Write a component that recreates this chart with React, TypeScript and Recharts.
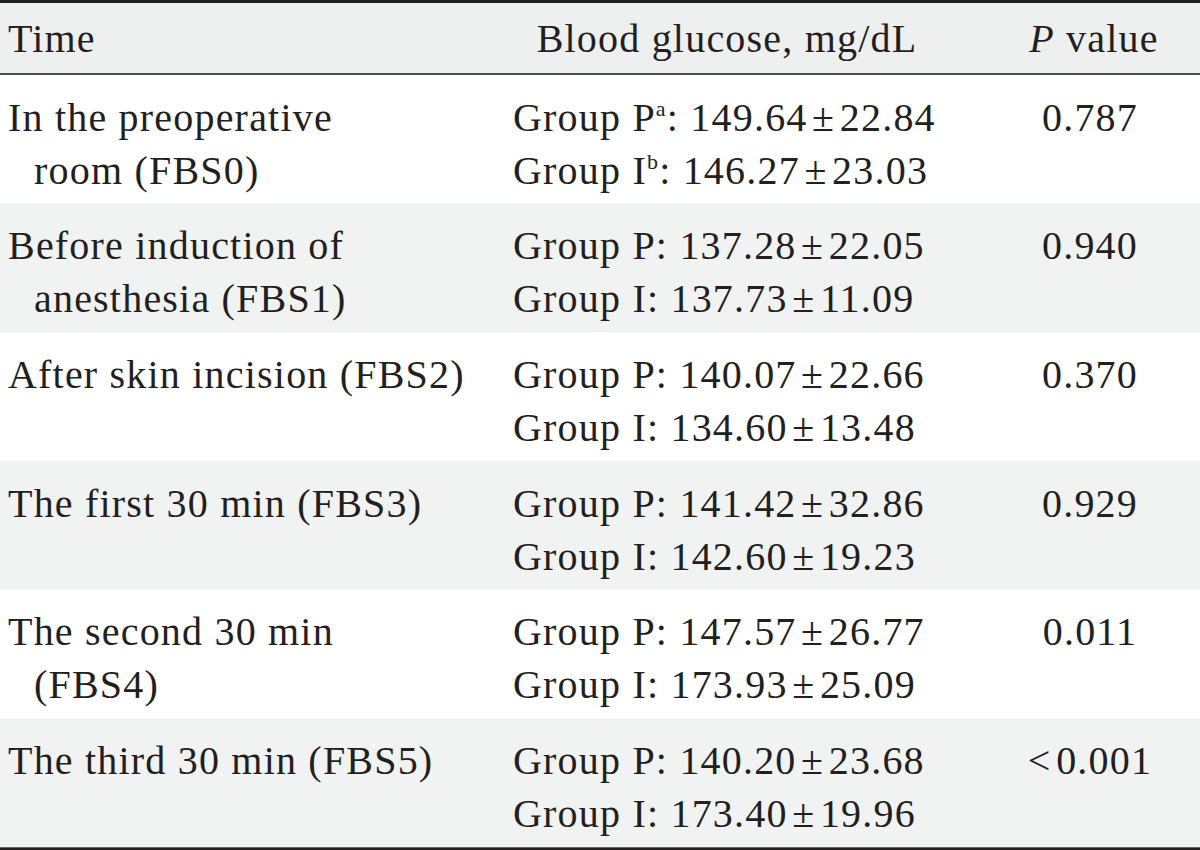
import { BarChart, Bar, XAxis, YAxis, Customized } from 'recharts';

// table rows
const times = [
  'In the preoperative\nroom (FBS0)',
  'Before induction of\nanesthesia (FBS1)',
  'After skin incision (FBS2)',
  'The first 30 min (FBS3)',
  'The second 30 min\n(FBS4)',
  'The third 30 min (FBS5)',
];
const groupPMean = [149.64, 137.28, 140.07, 141.42, 147.57, 140.2];
const groupPSd = [22.84, 22.05, 22.66, 32.86, 26.77, 23.68];
const groupIMean = [146.27, 137.73, 134.6, 142.6, 173.93, 173.4];
const groupISd = [23.03, 11.09, 13.48, 19.23, 25.09, 19.96];
const pValues = ['0.787', '0.940', '0.370', '0.929', '0.011', '<0.001'];

const headers = ['Time', 'Blood glucose, mg/dL', 'P value'];

const rows = times.map((time, i) => ({
  time,
  span: 1,
  pMean: groupPMean[i],
  pSd: groupPSd[i],
  iMean: groupIMean[i],
  iSd: groupISd[i],
  p: pValues[i],
}));

const FONT = '"Liberation Serif", "DejaVu Serif", serif';
const INK = '#231f20';
const FS = 40;
const LS = 1.2;

const fmt = (m: number, sd: number) => `${m.toFixed(2)}\u200a±\u200a${sd.toFixed(2)}`;

const RowShape = (props: any) => {
  const { x, y, width, height, index, payload } = props;
  const lines: string[] = payload.time.split('\n');
  const mid = y + height / 2;
  const b1 = mid - 9;
  const b2 = mid + 44;
  const first = index === 0;
  return (
    <g fontFamily={FONT} fontSize={FS} fill={INK} letterSpacing={LS}>
      <rect x={x} y={y} width={width} height={height} fill={index % 2 ? '#f1f2f2' : '#ffffff'} />
      <text x={x + 8} y={b1}>{lines[0]}</text>
      {lines[1] && <text x={x + 34} y={b2}>{lines[1]}</text>}
      <text x={x + 513} y={b1}>
        Group P
        {first && <tspan dy={-15} fontSize={22}>a</tspan>}
        <tspan dy={first ? 15 : 0}>: {fmt(payload.pMean, payload.pSd)}</tspan>
      </text>
      <text x={x + 513} y={b2}>
        Group I
        {first && <tspan dy={-15} fontSize={22}>b</tspan>}
        <tspan dy={first ? 15 : 0}>: {fmt(payload.iMean, payload.iSd)}</tspan>
      </text>
      <text x={x + 1090} y={b1} textAnchor="middle">
        {payload.p.replace('<', '<\u200a')}
      </text>
    </g>
  );
};

const Header = () => (
  <g fontFamily={FONT} fontSize={FS} fill={INK} letterSpacing={LS}>
    <rect x={0} y={0} width={1200} height={73} fill="#eeefef" />
    <rect x={0} y={0} width={1200} height={3} fill={INK} />
    <rect x={0} y={73} width={1200} height={2} fill="#4f4b4b" />
    <rect x={0} y={847} width={1200} height={3} fill={INK} />
    <text x={8} y={52}>{headers[0]}</text>
    <text x={727} y={52} textAnchor="middle">{headers[1]}</text>
    <text x={1094} y={52} textAnchor="middle">
      <tspan fontStyle="italic">P</tspan>
      {headers[2].slice(1)}
    </text>
  </g>
);

export default function App() {
  return (
    <div style={{ position: 'absolute', left: 0, top: 0, width: 1200, height: 850, background: '#fff' }}>
      <BarChart
        width={1200}
        height={850}
        data={rows}
        layout="vertical"
        margin={{ top: 75, right: 0, bottom: 3, left: 0 }}
        barCategoryGap={0}
      >
        <XAxis type="number" domain={[0, 1]} hide />
        <YAxis type="category" dataKey="time" hide />
        <Bar dataKey="span" isAnimationActive={false} shape={RowShape} />
        <Customized component={Header} />
      </BarChart>
    </div>
  );
}
